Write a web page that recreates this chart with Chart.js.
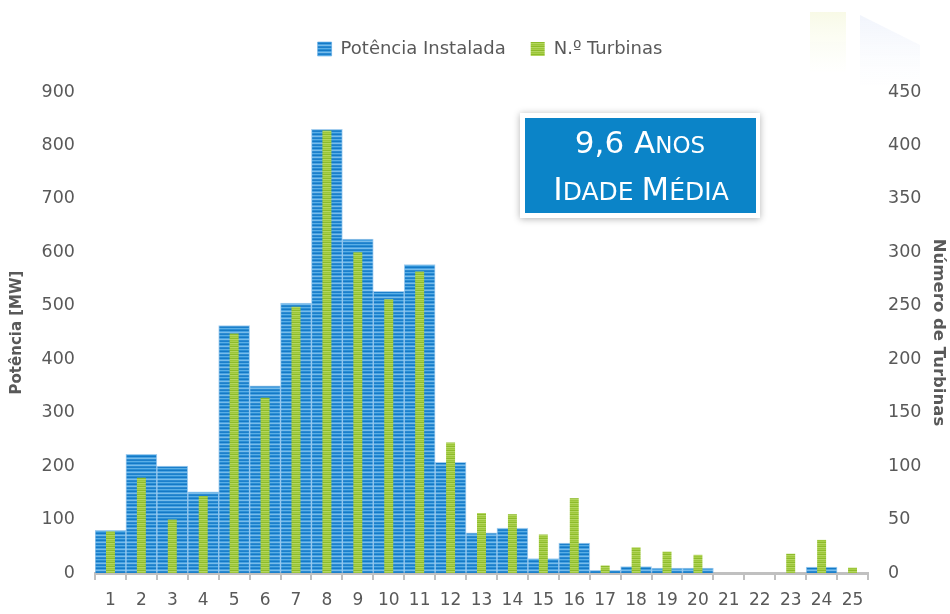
<!DOCTYPE html>
<html>
<head>
<meta charset="utf-8">
<script src="https://cdn.jsdelivr.net/npm/chart.js@4.4.1/dist/chart.umd.min.js"></script>
<style>
  html, body { margin: 0; padding: 0; background: #ffffff; }
  #wrap { width: 950px; height: 614px; position: relative; }
</style>
</head>
<body>
<div id="wrap"><canvas id="c" width="950" height="614"></canvas></div>
<script>
// ---- data ----
const categories = ['1','2','3','4','5','6','7','8','9','10','11','12','13','14','15','16','17','18','19','20','21','22','23','24','25'];
const potenciaMW = [80, 222, 200, 152, 463, 350, 505, 830, 625, 527, 577, 207, 75, 84, 27, 56, 5, 12, 9, 9, 0, 0, 0, 11, 0];
const numTurbinas = [39, 89, 50, 72, 224, 164, 249, 414, 300, 256, 282, 122, 56, 55, 36, 70, 7, 24, 20, 17, 0, 0, 18, 31, 5];
const seriesNames = ['Potência Instalada', 'N.º Turbinas'];
const leftTitle = 'Potência [MW]';
const rightTitle = 'Número de Turbinas';
const boxLine1 = [['9,6 A', true], ['NOS', false]];
const boxLine2 = [['I', true], ['DADE ', false], ['M', true], ['ÉDIA', false]];

const FONT = 'DejaVu Sans';
const TEXT = '#595959';

function stripePattern(colors) {
  const cv = document.createElement('canvas');
  cv.width = 4; cv.height = colors.length;
  const g = cv.getContext('2d');
  colors.forEach((c, i) => { g.fillStyle = c; g.fillRect(0, i, 4, 1); });
  return g.createPattern(cv, 'repeat');
}
const bluePat = stripePattern(['#2b8fd6', '#1479c6', '#4aa3e2', '#78bcea', '#2a8ad2', '#1c80cb', '#5aaee6']);
const greenPat = stripePattern(['#9cc63a', '#a9cf4a', '#8dbb2a', '#b4d660']);

const decoPlugin = {
  id: 'deco',
  beforeDraw(chart) {
    const c = chart.ctx;
    c.save();
    let g = c.createLinearGradient(0, 12, 0, 72);
    g.addColorStop(0, 'rgba(247,249,225,0.8)');
    g.addColorStop(1, 'rgba(250,252,240,0.1)');
    c.fillStyle = g;
    c.fillRect(810, 12, 36, 60);
    g = c.createLinearGradient(0, 15, 0, 85);
    g.addColorStop(0, 'rgba(238,242,251,0.8)');
    g.addColorStop(1, 'rgba(247,249,253,0.1)');
    c.fillStyle = g;
    c.beginPath();
    c.moveTo(860, 15); c.lineTo(920, 45); c.lineTo(920, 85); c.lineTo(860, 85); c.closePath();
    c.fill();
    c.restore();
    // shift the legend a little to the right, as in the reference
    const lg = chart.legend;
    if (lg && !lg._shifted) { lg.left += 15; lg.right += 15; lg._shifted = true; }
  }
};

function drawCapsLine(c, parts, cx, baseline, big, small) {
  let total = 0;
  const w = parts.map(([t, b]) => { c.font = (b ? big : small) + 'px "' + FONT + '"'; const m = c.measureText(t).width; total += m; return m; });
  let x = cx - total / 2;
  parts.forEach(([t, b], i) => {
    c.font = (b ? big : small) + 'px "' + FONT + '"';
    c.fillText(t, x, baseline);
    x += w[i];
  });
}

const boxPlugin = {
  id: 'ageBox',
  afterDraw(chart) {
    const c = chart.ctx;
    c.save();
    c.shadowColor = 'rgba(0,0,0,0.30)';
    c.shadowBlur = 7;
    c.shadowOffsetY = 1;
    c.fillStyle = '#ffffff';
    c.fillRect(520, 113, 240, 105);
    c.shadowColor = 'transparent';
    c.fillStyle = '#0b84c8';
    c.fillRect(525, 118, 231, 95);
    c.fillStyle = '#ffffff';
    c.textAlign = 'left';
    c.textBaseline = 'alphabetic';
    drawCapsLine(c, boxLine1, 640, 153, 31, 23);
    drawCapsLine(c, boxLine2, 641, 200, 32, 25);
    c.restore();
  }
};

const legendSizer = {
  id: 'legendSizer',
  beforeInit(chart) {
    const lg = chart.legend;
    if (lg && lg.fit) {
      const f = lg.fit;
      lg.fit = function () { f.call(this); this.height = 77; };
    }
  }
};

new Chart(document.getElementById('c'), {
  type: 'bar',
  data: {
    labels: categories,
    datasets: [
      {
        label: seriesNames[1],
        data: numTurbinas,
        yAxisID: 'y2',
        backgroundColor: greenPat,
        borderWidth: 0,
        grouped: false,
        barPercentage: 0.29,
        categoryPercentage: 1.0,
        order: 0
      },
      {
        label: seriesNames[0],
        data: potenciaMW,
        yAxisID: 'y',
        backgroundColor: bluePat,
        borderColor: 'rgba(90,165,225,0.55)',
        borderWidth: 1,
        grouped: false,
        barPercentage: 1.0,
        categoryPercentage: 1.0,
        order: 1
      }
    ]
  },
  options: {
    responsive: false,
    animation: false,
    layout: { padding: { top: 15, left: 0, right: 0, bottom: 0 } },
    plugins: {
      tooltip: { enabled: false },
      legend: {
        position: 'top',
        reverse: true,
        labels: {
          color: TEXT,
          font: { family: FONT, size: 18 },
          boxWidth: 14,
          boxHeight: 14,
          padding: 25
        }
      }
    },
    scales: {
      x: {
        grid: { display: true, drawOnChartArea: false, drawTicks: true, tickLength: 7, color: '#c0c0c0', lineWidth: 2, offset: true },
        border: { display: true, color: '#c0c0c0', width: 3 },
        ticks: { color: TEXT, font: { family: FONT, size: 17 }, padding: 10, maxRotation: 0, autoSkip: false },
        afterFit(s) { s.height = 41; }
      },
      y: {
        position: 'left',
        min: 0, max: 900,
        ticks: { stepSize: 100, color: TEXT, font: { family: FONT, size: 17.5 }, padding: 20 },
        grid: { display: false, drawTicks: false },
        border: { display: false },
        title: { display: true, text: leftTitle, color: TEXT, font: { family: FONT, size: 15, weight: 'bold' }, padding: { top: 8, bottom: 0 } },
        afterFit(s) { s.width = 95; }
      },
      y2: {
        position: 'right',
        min: 0, max: 450,
        ticks: { stepSize: 50, color: TEXT, font: { family: FONT, size: 17.5 }, padding: 20 },
        grid: { display: false, drawTicks: false },
        border: { display: false },
        title: { display: true, text: rightTitle, color: TEXT, font: { family: FONT, size: 16.5, weight: 'bold' }, padding: { top: 2, bottom: 0 } },
        afterFit(s) { s.width = 82; }
      }
    }
  },
  plugins: [legendSizer, decoPlugin, boxPlugin]
});
</script>
</body>
</html>
